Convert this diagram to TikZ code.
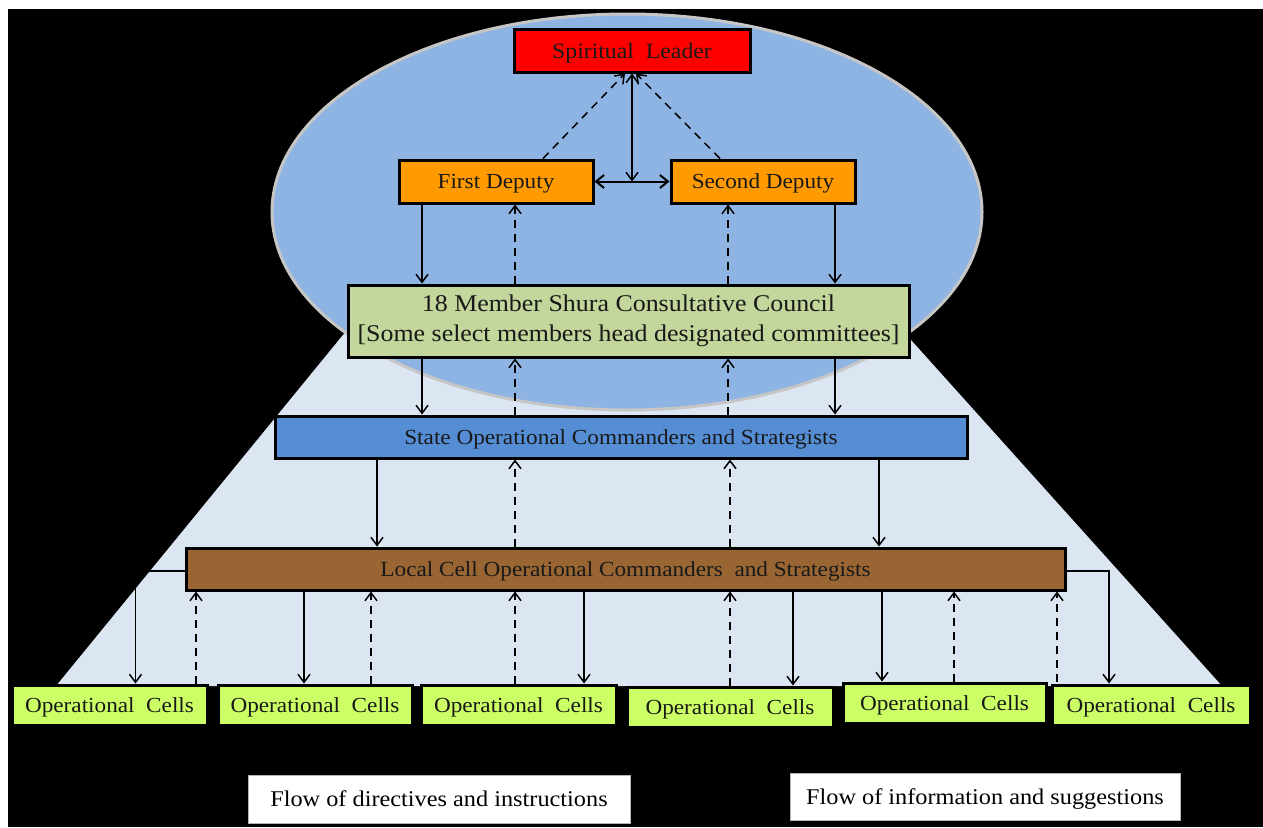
\documentclass[tikz,border=0pt]{standalone}
\usepackage{fontspec}
\setmainfont[FakeStretch=1.08]{Liberation Serif}
\usepackage{tikz}
\usetikzlibrary{arrows.meta}

\definecolor{ellblue}{HTML}{8EB4E3}
\definecolor{trapblue}{HTML}{DCE6F2}
\definecolor{leadred}{HTML}{FF0000}
\definecolor{depor}{HTML}{FF9A00}
\definecolor{shgreen}{HTML}{C3D69B}
\definecolor{stblue}{HTML}{558ED5}
\definecolor{locbrown}{HTML}{996633}
\definecolor{cellgreen}{HTML}{CCFF66}

\begin{document}
\begin{tikzpicture}[x=1pt, y=-1pt,
  box/.style = {draw, line width=3pt, inner sep=0pt, align=center, text=black!90},
  oneline/.style = {box, text depth=0pt},
  cell/.style = {oneline, fill=cellgreen, minimum height=40pt, font=\fontsize{21.5}{24}\selectfont},
  legend/.style = {draw=gray!60, fill=white, line width=1pt, inner sep=0pt, text depth=0pt, font=\fontsize{22.5}{26}\selectfont},
  dir/.style = {line width=1.5pt, -{Straight Barb[length=8pt, width=12pt]}},
  info/.style = {dir, dash pattern=on 8pt off 6pt}]
\useasboundingbox (0,0) rectangle (1263,827);
\fill[white] (0,0) rectangle (1263,827);
\fill[black] (8,9) rectangle (1263,827);
% background shapes
\fill[trapblue] (347,330) -- (902,330) -- (1222,686) -- (56,686) -- cycle;
\draw[draw=gray!45, line width=3pt, fill=ellblue] (627,212) ellipse [x radius=355, y radius=198];

% leadership
\node[oneline, fill=leadred, minimum width=236pt, minimum height=43pt, font=\fontsize{22}{24}\selectfont] (sl) at (632,50.5) {Spiritual\ \ Leader};
\node[oneline, fill=depor, minimum width=194pt, minimum height=43pt, font=\fontsize{21.5}{24}\selectfont] (fd) at (496,181.5) {First Deputy};
\node[oneline, fill=depor, minimum width=184pt, minimum height=43pt, font=\fontsize{21.5}{24}\selectfont] (sd) at (763,181.5) {Second Deputy};
\node[box, fill=shgreen, minimum width=561pt, minimum height=72pt, font=\fontsize{24}{30}\selectfont] (shura) at (628.5,321)
  {18 Member Shura Consultative Council\\ {[}Some select members head designated committees{]}};
\node[oneline, fill=stblue, minimum width=692pt, minimum height=42pt, font=\fontsize{21.5}{24}\selectfont] (state) at (621,437) {State Operational Commanders and Strategists};
\node[oneline, fill=locbrown, minimum width=879pt, minimum height=42pt, font=\fontsize{21.5}{24}\selectfont] (local) at (625.5,569) {Local Cell Operational Commanders\ \ and Strategists};

% cells
\node[cell, minimum width=195pt] (c1) at (109.5,705) {Operational\ \ Cells};
\node[cell, minimum width=194pt] (c2) at (315,705) {Operational\ \ Cells};
\node[cell, minimum width=195pt] (c3) at (518.5,705) {Operational\ \ Cells};
\node[cell, minimum width=206pt] (c4) at (730,707) {Operational\ \ Cells};
\node[cell, minimum width=203pt] (c5) at (944.5,703) {Operational\ \ Cells};
\node[cell, minimum width=198pt] (c6) at (1151,705) {Operational\ \ Cells};

% legend
\node[legend, minimum width=382pt, minimum height=48pt] (leg1) at (439,799) {Flow of directives and instructions};
\node[legend, minimum width=390pt, minimum height=47pt] (leg2) at (985,796.5) {Flow of information and suggestions};

% top level
\draw[line width=2pt, {Straight Barb[length=8pt, width=13pt]}-{Straight Barb[length=8pt, width=13pt]}] (fd.east) -- (sd.west);
\draw[line width=1.5pt, {Straight Barb[length=8pt, width=12pt]}-{Straight Barb[length=8pt, width=12pt]}] (sl.south) -- (sl.south |- fd.east);
\draw[info] ([xshift=47pt]fd.north) -- ([xshift=-7pt]sl.south);
\draw[info] ([xshift=-43pt]sd.north) -- ([xshift=4pt]sl.south);

% deputies and council
\draw[dir] (fd.south -| 422,0) -- (shura.north -| 422,0);
\draw[info] (shura.north -| 515,0) -- (fd.south -| 515,0);
\draw[info] (shura.north -| 728,0) -- (sd.south -| 728,0);
\draw[dir] (sd.south -| 835,0) -- (shura.north -| 835,0);

\draw[dir] (shura.south -| 422,0) -- (state.north -| 422,0);
\draw[info] (state.north -| 515,0) -- (shura.south -| 515,0);
\draw[info] (state.north -| 728,0) -- (shura.south -| 728,0);
\draw[dir] (shura.south -| 835,0) -- (state.north -| 835,0);

\draw[dir] (state.south -| 377,0) -- (local.north -| 377,0);
\draw[info] (local.north -| 515,0) -- (state.south -| 515,0);
\draw[info] (local.north -| 730,0) -- (state.south -| 730,0);
\draw[dir] (state.south -| 879,0) -- (local.north -| 879,0);

% local cells to operational cells
\draw[dir] ([yshift=-2pt]local.west) -| ([xshift=26pt]c1.north);
\draw[info] (c1.north -| 196,0) -- (local.south -| 196,0);
\draw[dir] (local.south -| 304,0) -- (c2.north -| 304,0);
\draw[info] (c2.north -| 371,0) -- (local.south -| 371,0);
\draw[info] (c3.north -| 515,0) -- (local.south -| 515,0);
\draw[dir] (local.south -| 584,0) -- (c3.north -| 584,0);
\draw[info] (c4.north -| 730,0) -- (local.south -| 730,0);
\draw[dir] (local.south -| 793,0) -- (c4.north -| 793,0);
\draw[dir] (local.south -| 882,0) -- (c5.north -| 882,0);
\draw[info] (c5.north -| 954,0) -- (local.south -| 954,0);
\draw[info] (c5.north -| 1057,0) -- (local.south -| 1057,0);
\draw[dir] ([yshift=-2pt]local.east) -| ([xshift=-42pt]c6.north);
\end{tikzpicture}
\end{document}
